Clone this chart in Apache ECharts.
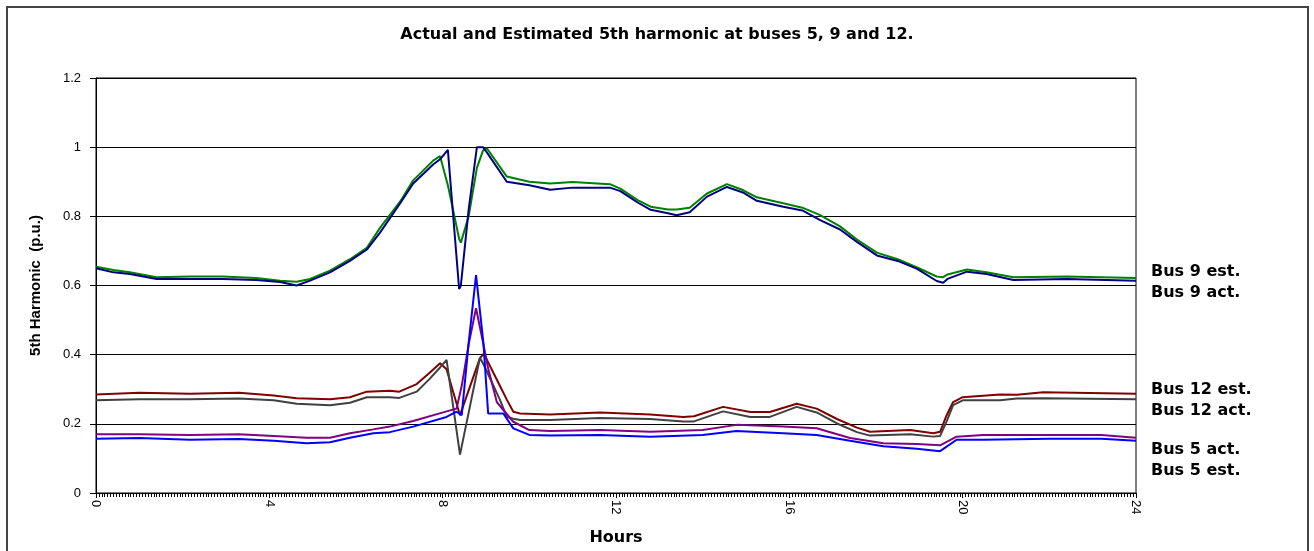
<!DOCTYPE html>
<html>
<head>
<meta charset="utf-8">
<title>5th harmonic</title>
<script src="https://cdn.jsdelivr.net/npm/echarts@6/dist/echarts.min.js"></script>
<style>
  html, body { margin: 0; padding: 0; background: #fff; }
  #chart { width: 1314px; height: 551px; }
</style>
</head>
<body>
<div id="chart"></div>
<script>
// 时间 (小时) 和各母线数据
const bus9Hours = [0, 0.4, 0.78, 1.4, 2.17, 2.93, 3.7, 4.25, 4.63, 4.94, 5.4, 5.86, 6.25, 6.55, 7.02, 7.32, 7.78, 7.94, 8.12, 8.25, 8.38, 8.42, 8.6, 8.79, 8.93, 9.02, 9.48, 10.0, 10.48, 11.0, 11.86, 12.1, 12.5, 12.8, 13.2, 13.4, 13.7, 14.1, 14.56, 14.93, 15.25, 15.86, 16.3, 16.7, 17.17, 17.56, 18.02, 18.5, 18.95, 19.4, 19.55, 19.65, 20.1, 20.55, 21.17, 22.4, 24]
const bus9Est = [0.654, 0.645, 0.638, 0.624, 0.626, 0.626, 0.622, 0.614, 0.611, 0.619, 0.643, 0.676, 0.709, 0.766, 0.843, 0.904, 0.961, 0.974, 0.89, 0.813, 0.735, 0.724, 0.80, 0.94, 0.99, 0.997, 0.915, 0.90, 0.895, 0.899, 0.893, 0.88, 0.847, 0.828, 0.82, 0.82, 0.825, 0.866, 0.893, 0.876, 0.855, 0.838, 0.825, 0.804, 0.771, 0.733, 0.695, 0.676, 0.652, 0.626, 0.624, 0.632, 0.646, 0.638, 0.624, 0.626, 0.622]
const bus9Act = [0.650, 0.638, 0.633, 0.619, 0.619, 0.619, 0.616, 0.610, 0.600, 0.614, 0.638, 0.671, 0.704, 0.752, 0.838, 0.895, 0.950, 0.965, 0.992, 0.79, 0.59, 0.60, 0.82, 1.0, 1.0, 0.985, 0.90, 0.89, 0.877, 0.883, 0.883, 0.873, 0.84, 0.819, 0.809, 0.803, 0.812, 0.857, 0.885, 0.869, 0.845, 0.828, 0.817, 0.79, 0.762, 0.726, 0.687, 0.671, 0.648, 0.613, 0.608, 0.619, 0.64, 0.633, 0.616, 0.619, 0.614]

const bus12Hours = [0, 1.0, 2.17, 3.3, 4.1, 4.63, 5.4, 5.86, 6.25, 6.78, 7.0, 7.4, 7.7, 7.94, 8.09, 8.4, 8.86, 8.95, 9.32, 9.48, 9.63, 9.79, 10.48, 11.63, 12.79, 13.55, 13.8, 14.47, 15.1, 15.55, 16.17, 16.63, 17.1, 17.56, 17.86, 18.79, 19.32, 19.48, 19.63, 19.78, 20.0, 20.86, 21.25, 21.86, 24]
const bus12Est = [0.285, 0.29, 0.287, 0.29, 0.282, 0.274, 0.271, 0.277, 0.293, 0.296, 0.293, 0.315, 0.348, 0.375, 0.358, 0.225, 0.39, 0.403, 0.31, 0.27, 0.235, 0.23, 0.227, 0.233, 0.227, 0.22, 0.222, 0.249, 0.234, 0.234, 0.258, 0.244, 0.214, 0.189, 0.177, 0.182, 0.173, 0.177, 0.225, 0.263, 0.277, 0.285, 0.284, 0.291, 0.287]
const bus12Act = [0.268, 0.271, 0.271, 0.273, 0.268, 0.258, 0.254, 0.261, 0.277, 0.277, 0.275, 0.293, 0.33, 0.363, 0.385, 0.111, 0.391, 0.37, 0.27, 0.22, 0.215, 0.211, 0.211, 0.217, 0.214, 0.207, 0.207, 0.236, 0.22, 0.22, 0.249, 0.233, 0.201, 0.176, 0.166, 0.17, 0.163, 0.165, 0.207, 0.254, 0.268, 0.268, 0.273, 0.274, 0.271]

const bus5Hours = [0, 1.0, 2.17, 3.3, 4.1, 4.86, 5.4, 5.86, 6.4, 6.78, 7.32, 8.09, 8.32, 8.44, 8.6, 8.77, 8.94, 9.05, 9.25, 9.4, 9.63, 10.0, 10.48, 11.63, 12.79, 14.0, 14.78, 15.86, 16.63, 17.4, 18.17, 18.94, 19.48, 19.86, 20.47, 22.0, 23.2, 24]
const bus5Act = [0.17, 0.17, 0.168, 0.17, 0.165, 0.16, 0.16, 0.173, 0.184, 0.192, 0.208, 0.236, 0.244, 0.31, 0.43, 0.534, 0.43, 0.36, 0.263, 0.24, 0.206, 0.182, 0.179, 0.182, 0.177, 0.182, 0.197, 0.192, 0.187, 0.159, 0.144, 0.142, 0.138, 0.163, 0.168, 0.168, 0.168, 0.16]
const bus5Est = [0.157, 0.159, 0.154, 0.156, 0.151, 0.144, 0.147, 0.16, 0.173, 0.176, 0.192, 0.22, 0.235, 0.225, 0.434, 0.63, 0.434, 0.23, 0.23, 0.23, 0.187, 0.168, 0.166, 0.168, 0.163, 0.168, 0.179, 0.173, 0.168, 0.151, 0.135, 0.128, 0.121, 0.154, 0.154, 0.157, 0.157, 0.151]

const xTicks = [0, 4, 8, 12, 16, 20, 24]

const pair = (hrs, vals) => hrs.map((h, i) => [h, vals[i]])

const mkSeries = (name, color, hrs, vals) => ({
    name: name,
    type: 'line',
    data: pair(hrs, vals),
    showSymbol: false,
    symbol: 'none',
    smooth: false,
    animation: false,
    lineStyle: { color: color, width: 2 },
    itemStyle: { color: color },
})

const labelFont = {
    fontFamily: 'DejaVu Sans',
    fontWeight: 'bold',
    fontSize: 16,
    color: '#000',
}

const mkLegend = (names, top) => ({
    orient: 'vertical',
    left: 1141,
    top: top,
    icon: 'none',
    itemWidth: 0,
    itemHeight: 0,
    itemGap: 5,
    selectedMode: false,
    textStyle: labelFont,
    data: names,
})

let myChart = echarts.init(document.getElementById('chart'))

let option = {
    animation: false,
    title: {
        text: 'Actual and Estimated 5th harmonic at buses 5, 9 and 12.',
        left: 'center',
        top: 22,
        textStyle: {
            fontFamily: 'DejaVu Sans',
            fontWeight: 'bold',
            fontSize: 16,
            color: '#000',
        },
    },
    // 外框
    graphic: [
        {
            type: 'rect',
            shape: { x: 7, y: 7, width: 1301, height: 560 },
            style: { fill: 'none', stroke: '#444', lineWidth: 2 },
            silent: true,
        },
    ],
    legend: [
        mkLegend(['Bus 9 est.', 'Bus 9 act.'], 259),
        mkLegend(['Bus 12 est.', 'Bus 12 act.'], 377),
        mkLegend(['Bus 5 act.', 'Bus 5 est.'], 437),
    ],
    grid: {
        left: 96,
        right: 178,
        top: 78,
        bottom: 52,
        show: true,
        borderColor: '#000',
        borderWidth: 1,
        backgroundColor: '#fff',
    },
    xAxis: {
        type: 'value',
        min: 0,
        max: 24,
        interval: 4,
        name: 'Hours',
        nameLocation: 'middle',
        nameGap: 37,
        nameTextStyle: {
            fontFamily: 'DejaVu Sans',
            fontWeight: 'bold',
            fontSize: 16,
            color: '#000',
        },
        axisLine: { lineStyle: { color: '#000', width: 1 } },
        axisTick: { show: true, length: 5, lineStyle: { color: '#000' } },
        minorTick: { show: true, splitNumber: 60, length: 4, lineStyle: { color: '#000' } },
        splitLine: { show: false },
        axisLabel: {
            rotate: -90,
            margin: 7,
            fontFamily: 'Liberation Sans',
            fontSize: 13,
            color: '#000',
            customValues: xTicks,
        },
    },
    yAxis: {
        type: 'value',
        min: 0,
        max: 1.2,
        interval: 0.2,
        name: '5th Harmonic  (p.u.)',
        nameLocation: 'middle',
        nameGap: 53,
        nameTextStyle: {
            fontFamily: 'Liberation Sans',
            fontWeight: 'bold',
            fontSize: 15,
            color: '#000',
        },
        axisLine: { show: true, lineStyle: { color: '#000', width: 1 } },
        axisTick: { show: true, length: 6, lineStyle: { color: '#000' } },
        splitLine: { show: true, lineStyle: { color: '#000', width: 1 } },
        axisLabel: {
            margin: 15,
            fontFamily: 'Liberation Sans',
            fontSize: 13,
            color: '#000',
            formatter: (v) => String(+v.toFixed(1)),
        },
    },
    series: [
        mkSeries('Bus 9 est.', '#008000', bus9Hours, bus9Est),
        mkSeries('Bus 9 act.', '#000080', bus9Hours, bus9Act),
        mkSeries('Bus 12 est.', '#800000', bus12Hours, bus12Est),
        mkSeries('Bus 12 act.', '#404040', bus12Hours, bus12Act),
        mkSeries('Bus 5 act.', '#800080', bus5Hours, bus5Act),
        mkSeries('Bus 5 est.', '#0000FF', bus5Hours, bus5Est),
    ],
}

myChart.setOption(option)
window.addEventListener('resize', myChart.resize)
</script>
</body>
</html>
